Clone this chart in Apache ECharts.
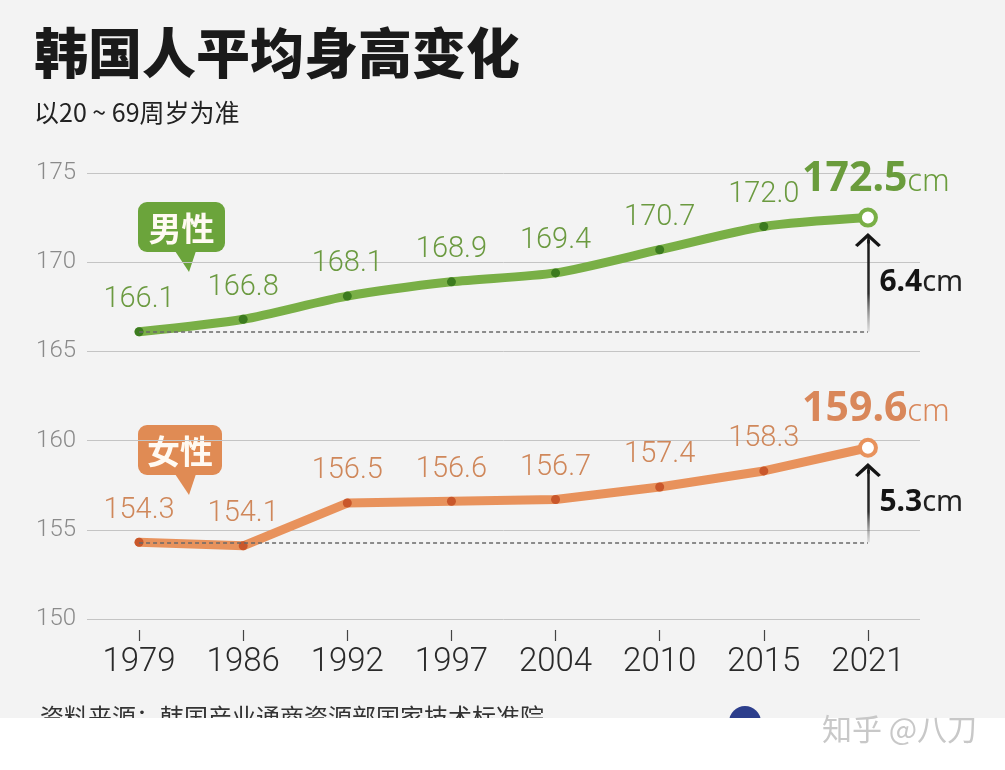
<!DOCTYPE html>
<html>
<head>
<meta charset="utf-8">
<script src="https://cdn.jsdelivr.net/npm/echarts@6/dist/echarts.min.js"></script>
<style>
  html, body { margin: 0; padding: 0; background: #f3f3f3; }
  #chart { width: 1005px; height: 770px; }
</style>
</head>
<body>
<div id="chart"></div>
<script>
// ---- data ----
const years = ['1979', '1986', '1992', '1997', '2004', '2010', '2015', '2021'];
const male = [166.1, 166.8, 168.1, 168.9, 169.4, 170.7, 172.0, 172.5];
const female = [154.3, 154.1, 156.5, 156.6, 156.7, 157.4, 158.3, 159.6];
const yMin = 150, yMax = 175, yStep = 5;
const titleText = '韩国人平均身高变化';
const subtitleText = '以20 ~ 69周岁为准';
const maleName = '男性', femaleName = '女性';
const sourceText = '资料来源：韩国产业通商资源部国家技术标准院';
const watermark = '知乎 @八刀';

// ---- styles ----
const THIN = "Roboto, 'Noto Sans', sans-serif";
const SANS = "'Noto Sans', 'Noto Sans CJK SC', sans-serif";
const CJK = "'Noto Sans CJK SC', sans-serif";
const ARROW = 'path://M0,12 L12,0 L24,12 L21.6,14 L12,4.6 L2.4,14 Z';

function buildSeries(name, values, lineColor, dotColor, labelColor, bigColor, smooth) {
  const n = values.length;
  const last = values[n - 1], first = values[0];
  const diff = (last - first).toFixed(1);
  const tipVal = last - 0.85;
  const data = values.map((v, i) => {
    if (i < n - 1) return v;
    return {
      value: v,
      symbol: 'circle',
      symbolSize: 16,
      itemStyle: { color: '#ffffff', borderColor: lineColor, borderWidth: 4 },
      label: {
        show: true,
        position: 'top',
        distance: 8,
        offset: [8, 0],
        formatter: () => '{b|' + v.toFixed(1) + '}{c|cm}',
        rich: {
          b: { fontFamily: SANS, fontWeight: 'bold', fontSize: 41, color: bigColor },
          c: { fontFamily: SANS, fontSize: 31, color: bigColor, padding: [6, 0, 0, 0] }
        }
      }
    };
  });
  return {
    name: name,
    type: 'line',
    smooth: smooth,
    data: data,
    symbol: 'circle',
    symbolSize: 9,
    showAllSymbol: true,
    lineStyle: { color: lineColor, width: 9, cap: 'round', join: 'round' },
    itemStyle: { color: dotColor, borderWidth: 0 },
    label: {
      show: true,
      position: 'top',
      distance: 13,
      fontFamily: THIN,
      fontWeight: 300,
      fontSize: 29,
      color: labelColor,
      formatter: p => Number(p.value).toFixed(1)
    },
    emphasis: { disabled: true },
    silent: true,
    markLine: {
      silent: true,
      symbol: ['none', 'none'],
      label: { show: false },
      emphasis: { disabled: true },
      animation: false,
      data: [
        [
          { coord: [0, first], lineStyle: { color: '#6a6a6a', width: 1.5, type: [4, 3] } },
          { coord: [n - 1, first] }
        ],
        [
          {
            coord: [n - 1, first],
            lineStyle: {
              width: 2.5, type: 'solid',
              color: {
                type: 'linear', x: 0, y: 0, x2: 0, y2: 1,
                colorStops: [
                  { offset: 0, color: '#151515' },
                  { offset: 0.6, color: '#2a2a2a' },
                  { offset: 1, color: 'rgba(140,140,140,0.15)' }
                ]
              }
            }
          },
          { coord: [n - 1, tipVal - 0.12] }
        ],
        [
          { coord: [n - 1, tipVal - 0.6], lineStyle: { color: '#151515', width: 2.5, type: 'solid' } },
          { coord: [n - 1, tipVal - 0.4], symbol: ARROW, symbolSize: [26, 14] }
        ]
      ]
    },
    markPoint: {
      silent: true,
      animation: false,
      symbol: 'circle',
      symbolSize: 1,
      itemStyle: { color: 'rgba(0,0,0,0)' },
      data: [{
        coord: [n - 1, (first + tipVal) / 2],
        label: {
          show: true,
          position: 'right',
          distance: 11,
          formatter: '{b|' + diff + '}{c|cm}',
          rich: {
            b: { fontFamily: SANS, fontWeight: 'bold', fontSize: 30, color: '#151515' },
            c: { fontFamily: SANS, fontSize: 29, color: '#222' }
          }
        }
      }]
    }
  };
}

function badge(x, y, w, h, color, text) {
  return {
    type: 'group',
    silent: true,
    children: [
      { type: 'rect', shape: { x: x, y: y, width: w, height: h, r: 9 }, style: { fill: color } },
      { type: 'polygon', shape: { points: [[x + 37, y + h - 1], [x + 58, y + h - 1], [x + 51, y + h + 20]] }, style: { fill: color } },
      { type: 'text', x: x + w / 2, y: y + h / 2 + 1, style: { text: text, fill: '#fffaf2', font: "bold 33px 'Noto Sans CJK SC', sans-serif", textAlign: 'center', textVerticalAlign: 'middle' } }
    ]
  };
}

const chart = echarts.init(document.getElementById('chart'), null, { renderer: 'canvas' });
chart.setOption({
  backgroundColor: '#f3f3f3',
  animation: false,
  title: {
    text: titleText,
    subtext: subtitleText,
    left: 29,
    top: 21,
    itemGap: 20,
    textStyle: { fontFamily: CJK, fontWeight: 900, fontSize: 54, color: '#1a1a1a' },
    subtextStyle: { fontFamily: CJK, fontSize: 25, color: '#222' }
  },
  grid: { left: 87, right: 85, top: 173, bottom: 151, containLabel: false },
  xAxis: {
    type: 'category',
    data: years,
    boundaryGap: true,
    offset: 11,
    axisLine: { show: false },
    axisTick: { show: true, alignWithLabel: true, length: 11, lineStyle: { color: '#444', width: 1.2 } },
    axisLabel: { interval: 0, margin: 16, fontFamily: THIN, fontWeight: 300, fontSize: 33, color: '#2a2a2a' },
    splitLine: { show: false }
  },
  yAxis: {
    type: 'value',
    min: yMin, max: yMax, interval: yStep,
    axisLine: { show: false },
    axisTick: { show: false },
    axisLabel: { margin: 11, fontFamily: THIN, fontWeight: 300, fontSize: 24, color: '#8a8a8a' },
    splitLine: { show: true, lineStyle: { color: '#c4c4c4', width: 1 } }
  },
  series: [
    buildSeries(maleName, male, '#79af46', '#3c7b1f', '#6b9a40', '#6a9c3c', 0.25),
    buildSeries(femaleName, female, '#e8925c', '#c9572b', '#cf875a', '#d9875a', false)
  ],
  graphic: [
    badge(138, 202, 87, 50, '#6ba43b', maleName),
    badge(138, 425, 84, 50, '#e08b54', femaleName),
    { type: 'text', left: 40, top: 705, silent: true, style: { text: sourceText, fill: '#333', font: "24px 'Noto Sans CJK SC', sans-serif" } },
    { type: 'circle', shape: { cx: 745, cy: 722, r: 16 }, silent: true, style: { fill: '#2c3e8c' } },
    { type: 'rect', shape: { x: 0, y: 718, width: 1005, height: 52 }, silent: true, style: { fill: '#ffffff' }, z: 50 },
    { type: 'text', left: 822, top: 714, silent: true, z: 60, style: { text: watermark, fill: '#c8c8c8', font: "30px 'Noto Sans CJK SC', sans-serif" } }
  ]
});
</script>
</body>
</html>
